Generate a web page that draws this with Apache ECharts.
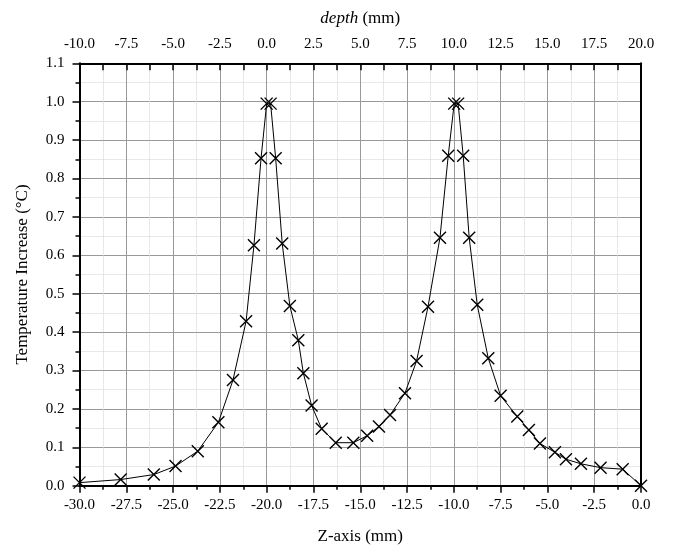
<!DOCTYPE html>
<html>
<head>
<meta charset="utf-8">
<script src="https://cdn.jsdelivr.net/npm/echarts@6/dist/echarts.min.js"></script>
<style>html,body{margin:0;padding:0;background:#fff}#c{width:675px;height:554px}</style>
</head>
<body>
<div id="c"></div>
<script>
// Z-axis position (mm)
const zPos = [-30.0, -27.8, -26.03, -24.87, -23.68, -22.58, -21.8, -21.1, -20.68, -20.30, -20.0, -19.79,
  -19.52, -19.17, -18.76, -18.31, -18.04, -17.6, -17.06, -16.31, -15.37, -14.63, -14.0, -13.41,
  -12.61, -11.99, -11.38, -10.74, -10.30, -9.98, -9.77, -9.50, -9.18, -8.75, -8.16, -7.5,
  -6.61, -5.99, -5.40, -4.60, -4.01, -3.21, -2.16, -0.98, 0.0];
// Temperature increase (°C)
const tempInc = [0.008, 0.016, 0.029, 0.051, 0.090, 0.165, 0.275, 0.428, 0.626, 0.853, 0.995, 0.995,
  0.853, 0.631, 0.468, 0.379, 0.293, 0.209, 0.148, 0.112, 0.112, 0.130, 0.154, 0.184,
  0.241, 0.325, 0.466, 0.646, 0.859, 0.995, 0.995, 0.859, 0.646, 0.471, 0.332, 0.234,
  0.180, 0.145, 0.110, 0.087, 0.069, 0.057, 0.047, 0.043, 0.0];

const zTicks = { min: -30, max: 0, step: 2.5 };
const depthTicks = { min: -10, max: 20, step: 2.5 };
const yTicks = { min: 0, max: 1.1, step: 0.1 };

const FONT = 'Liberation Serif';
const chart = echarts.init(document.getElementById('c'), null, { renderer: 'canvas' });
const fmt1 = v => Number(v).toFixed(1);

const data = zPos.map((z, i) => [z, tempInc[i]]);

const option = {
  backgroundColor: '#fff',
  animation: false,
  grid: { left: 79.5, right: 34, top: 63.3, bottom: 68.3, containLabel: false },
  xAxis: [
    {
      type: 'value', position: 'bottom', min: zTicks.min, max: zTicks.max, interval: zTicks.step,
      name: 'Z-axis (mm)', nameLocation: 'middle', nameGap: 42,
      nameTextStyle: { fontFamily: FONT, fontSize: 17, color: '#000' },
      axisLine: { show: true, onZero: false, lineStyle: { color: '#000', width: 2 } },
      axisTick: { show: true, inside: false, length: 7, lineStyle: { color: '#000', width: 1.5 } },
      minorTick: { show: true, splitNumber: 2, length: 4, lineStyle: { color: '#000', width: 1.5 } },
      axisLabel: { formatter: fmt1, fontFamily: FONT, fontSize: 15, color: '#000', margin: 12 },
      splitLine: { show: true, lineStyle: { color: '#999', width: 1 } },
      minorSplitLine: { show: true, lineStyle: { color: '#d0d0d0', width: 1, type: [1, 1] } }
    },
    {
      type: 'value', position: 'top', min: depthTicks.min, max: depthTicks.max, interval: depthTicks.step,
      name: '{i|depth} (mm)', nameLocation: 'middle', nameGap: 36,
      nameTextStyle: { fontFamily: FONT, fontSize: 17, color: '#000',
        rich: { i: { fontFamily: FONT, fontSize: 17, fontStyle: 'italic', color: '#000' } } },
      axisLine: { show: true, onZero: false, lineStyle: { color: '#000', width: 2 } },
      axisTick: { show: true, inside: true, length: 7, lineStyle: { color: '#000', width: 1.5 } },
      minorTick: { show: true, splitNumber: 2, length: 7, lineStyle: { color: '#000', width: 1.5 } },
      axisLabel: { formatter: fmt1, fontFamily: FONT, fontSize: 15, color: '#000', margin: 12 },
      splitLine: { show: false }
    }
  ],
  yAxis: [
    {
      type: 'value', position: 'left', min: yTicks.min, max: yTicks.max, interval: yTicks.step,
      name: 'Temperature Increase (°C)', nameLocation: 'middle', nameGap: 48, nameRotate: 90,
      nameTextStyle: { fontFamily: FONT, fontSize: 17, color: '#000' },
      axisLine: { show: true, onZero: false, lineStyle: { color: '#000', width: 2 } },
      axisTick: { show: true, inside: false, length: 7, lineStyle: { color: '#000', width: 1.5 } },
      minorTick: { show: true, splitNumber: 2, length: 4, lineStyle: { color: '#000', width: 1.5 } },
      axisLabel: { formatter: fmt1, fontFamily: FONT, fontSize: 15, color: '#000', margin: 15 },
      splitLine: { show: true, lineStyle: { color: '#999', width: 1 } },
      minorSplitLine: { show: true, lineStyle: { color: '#d0d0d0', width: 1, type: [1, 1] } }
    },
    {
      type: 'value', position: 'right', min: yTicks.min, max: yTicks.max, interval: yTicks.step,
      axisLine: { show: true, onZero: false, lineStyle: { color: '#000', width: 2 } },
      axisTick: { show: false }, axisLabel: { show: false }, splitLine: { show: false }
    }
  ],
  series: [
    {
      type: 'line', xAxisIndex: 0, yAxisIndex: 0, data: data,
      symbol: 'path://M0,0L10,10M10,0L0,10', symbolSize: 12,
      showAllSymbol: true,
      lineStyle: { color: '#000', width: 1 },
      itemStyle: { color: 'rgba(0,0,0,0)', borderColor: '#000', borderWidth: 1.4 },
      clip: true, z: 5
    }
  ]
};
chart.setOption(option);
</script>
</body>
</html>
